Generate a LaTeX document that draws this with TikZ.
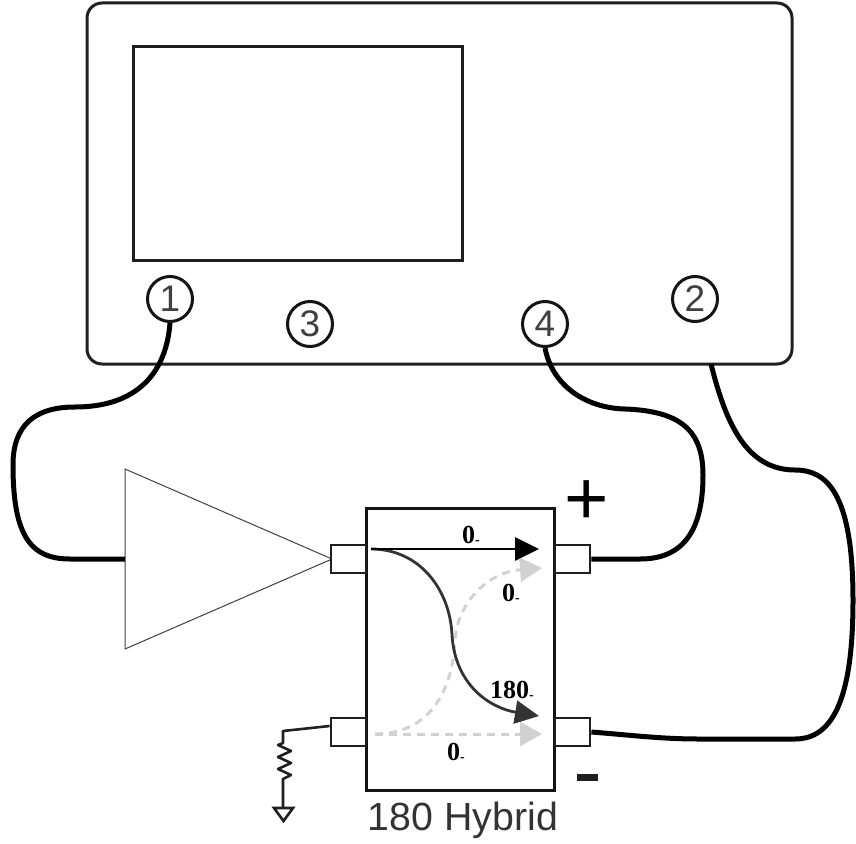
\documentclass[tikz,border=0pt]{standalone}
\usepackage{fontspec}
\setmainfont{Liberation Sans}
\newfontfamily\degfont{Liberation Serif}
\usetikzlibrary{arrows.meta}
\newcommand{\phasemark}{\raisebox{-1pt}{\fontsize{14}{14}\selectfont -}}
\tikzset{
  outline/.style={draw=black!88,line width=3pt},
  port/.style={draw=black!88,line width=2.8pt,fill=white,minimum width=35pt,minimum height=28pt,inner sep=0pt},
  jack/.style={circle,draw=black!92,line width=3pt,fill=white,minimum size=45pt,inner sep=0pt,font=\fontsize{37}{37}\selectfont,text=black!75},
  cable/.style={draw=black,line width=5pt},
  phase/.style={font=\degfont\bfseries\fontsize{26}{26}\selectfont,inner sep=0pt},
  solidarrow/.style={line width=2.8pt,-{Triangle[length=24pt,width=23pt]}},
  ghostarrow/.style={draw=black!18,line width=3pt,dash pattern=on 8pt off 6pt,-{Triangle[length=22pt,width=24pt,color=black!18]}},
}
\begin{document}
\begin{tikzpicture}[x=1pt,y=-1pt]
\useasboundingbox (0,0) rectangle (856,843);
% instrument
\draw[outline,rounded corners=15pt] (87,3) rectangle (792,364);
\draw[outline] (133,47) rectangle (462,260);
% amplifier and hybrid
\draw[draw=black!75,line width=1pt] (125,469) -- (125,649) -- (332,559) -- cycle;
\node[draw=black!92,line width=3pt,fill=white,minimum width=188pt,minimum height=282pt,inner sep=0pt] (hyb) at (460,649) {};
\node[port] (pA) at (348.5,559) {};
\node[port] (pB) at (572.5,559) {};
\node[port] (pC) at (348.5,732) {};
\node[port] (pD) at (572.5,732) {};
% jacks
\node[jack] (j1) at (170,299) {1};
\node[jack] (j3) at (310,324) {3};
\node[jack] (j4) at (545,324) {4};
\node[jack] (j2) at (695,299) {2};
% cables
\draw[cable] (j1.south) .. controls (166,375) and (135,407) .. (75,407)
  .. controls (35,407) and (13,425) .. (13,465)
  .. controls (13,535) and (30,559) .. (70,559) -- (125,559);
\draw[cable] (j4.south) .. controls (552,385) and (585,408) .. (625,409)
  .. controls (680,411) and (703,430) .. (703,475)
  .. controls (703,535) and (680,559) .. (640,559) -- (pB.east);
\coordinate (out2) at (711,364);
\draw[cable] (out2) .. controls (725,420) and (745,470) .. (795,470)
  .. controls (825,470) and (853,490) .. (853,600)
  .. controls (853,705) and (830,739) .. (795,739)
  -- (700,739) .. controls (660,739) and (630,735) .. (pD.east);
% signal paths
\coordinate (s) at (371,549);
\node[phase] (l1) at (471,535) {0\phasemark};
\node[phase] (l2) at (511,593) {0\phasemark};
\node[phase] (l3) at (512,690) {180\phasemark};
\node[phase] (l4) at (456,752) {0\phasemark};
\coordinate (g1) at (375,734);
\coordinate (e1) at (542,568);
\coordinate (e2) at (542,734);
\coordinate (e3) at (539,716);
\coordinate (e4) at (539,549);
\draw[ghostarrow] (g1) -- (e2);
\draw[ghostarrow] (g1) .. controls (430,734) and (453,690) .. (455,640)
  .. controls (458,600) and (490,572) .. (e1);
\draw[solidarrow,draw=black!80,-{Triangle[length=24pt,width=23pt,color=black!80]}] (s) .. controls (420,549) and (450,590) .. (452,635)
  .. controls (455,685) and (490,708) .. (e3);
\draw[solidarrow,black] (s) -- (e4);
% termination
\coordinate (r0) at (pC.west |- 0,726);
\coordinate (r1) at (283,731);
\coordinate (g) at (283,808);
\draw[black!88,line width=2.6pt,line join=round] (r0) -- (r1) -- (283,743) -- (278,745) -- (291,751) -- (278,757) -- (291,763) -- (278,769) -- (291,775) -- (283,779) -- (g);
\draw[black!88,line width=2.6pt,line join=miter] (274,808) -- (293,808) -- (283.5,821) -- cycle;
% labels
\node[inner sep=0pt,font=\fontsize{76}{76}\selectfont] (plus) at (587,503) {+};
\fill[black!88] (577,774) rectangle (598,781);
\node[inner sep=0pt,font=\fontsize{39.3}{39.3}\selectfont,text=black!80] (name) at (463,820) {180 Hybrid};
\end{tikzpicture}
\end{document}
